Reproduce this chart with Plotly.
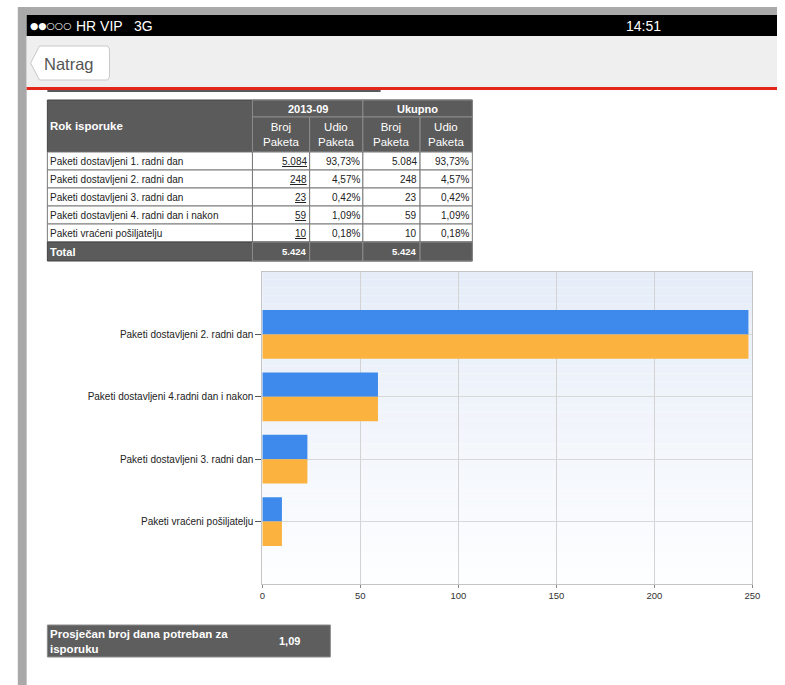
import plotly.graph_objects as go

# ---------------- data ----------------
table_rows = [
    "Paketi dostavljeni 1. radni dan",
    "Paketi dostavljeni 2. radni dan",
    "Paketi dostavljeni 3. radni dan",
    "Paketi dostavljeni 4. radni dan i nakon",
    "Paketi vraćeni pošiljatelju",
]
broj_2013 = [5084, 248, 23, 59, 10]
udio_2013 = [93.73, 4.57, 0.42, 1.09, 0.18]
broj_ukupno = [5084, 248, 23, 59, 10]
udio_ukupno = [93.73, 4.57, 0.42, 1.09, 0.18]
total_2013 = 5424
total_ukupno = 5424
period_labels = ["2013-09", "Ukupno"]
sub_labels = ["Broj<br>Paketa", "Udio<br>Paketa"]
avg_days_label = "Prosječan broj dana potreban za<br>isporuku"
avg_days = "1,09"

chart_categories = [
    "Paketi dostavljeni 2. radni dan",
    "Paketi dostavljeni 4.radni dan i nakon",
    "Paketi dostavljeni 3. radni dan",
    "Paketi vraćeni pošiljatelju",
]
series_2013 = [248, 59, 23, 10]
series_ukupno = [248, 59, 23, 10]
x_ticks = [0, 50, 100, 150, 200, 250]

# ---------------- helpers ----------------
W, H = 785, 685
def X(px):
    return px / W
def Y(py):
    return 1 - py / H

def fmt_int(v):
    return f"{v:,}".replace(",", ".")
def fmt_pct(v):
    return f"{v:.2f}".replace(".", ",") + "%"

shapes = []
annotations = []

def rect(x0, y0, x1, y1, fill, line="rgba(0,0,0,0)", lw=0, layer="below"):
    shapes.append(dict(type="rect", xref="paper", yref="paper",
                       x0=X(x0), x1=X(x1), y0=Y(y1), y1=Y(y0),
                       fillcolor=fill, line=dict(color=line, width=lw), layer=layer))

def text(x, y, s, size=9, color="#222", bold=False, xanchor="left",
         family="Liberation Sans, Arial, sans-serif", align="left"):
    if bold:
        s = "<b>" + s + "</b>"
    annotations.append(dict(xref="paper", yref="paper", x=X(x), y=Y(y), text=s,
                            showarrow=False, xanchor=xanchor, yanchor="middle",
                            align=align, borderpad=0,
                            font=dict(size=size, color=color, family=family)))

# ---------------- device frame ----------------
rect(15, 7, 785, 685, "#a9a9a9")
rect(24, 15, 785, 685, "#ffffff")
rect(24, 15, 785, 36, "#000000")
rect(24, 36, 785, 87, "#efefef")
rect(24, 87, 785, 90, "#e3261c")
rect(45, 90, 383, 92, "#5a5a5a")
text(26, 25.5, "●●○○○", size=9.5, color="#ffffff", family="DejaVu Sans, sans-serif")
text(73, 25.5, "HR VIP", size=14, color="#ffffff")
text(132, 25.5, "3G", size=14, color="#ffffff")
text(650, 25.5, "14:51", size=14, color="#ffffff", xanchor="center")
# back button
shapes.append(dict(type="path", xref="paper", yref="paper", layer="below",
                   path=(f"M {X(28)},{Y(63)} L {X(37)},{Y(46)} L {X(106)},{Y(46)} "
                         f"L {X(108)},{Y(49)} L {X(108)},{Y(77)} L {X(106)},{Y(80)} "
                         f"L {X(37)},{Y(80)} Z"),
                   fillcolor="#ffffff", line=dict(color="#c9c9c9", width=1)))
text(67, 64, "Natrag", size=16.5, color="#555555", xanchor="center")

# ---------------- table ----------------
cx = [45, 253, 311, 365, 423, 476]
ry = [100, 117, 152, 170, 188, 206, 224, 242, 261]
hdr = "#5b5b5b"
hline = "#8c8c8c"
rect(cx[0], ry[0], cx[5], ry[2], hdr, "#444444", 1)
rect(cx[1], ry[0], cx[3], ry[1], hdr, hline, 1)
rect(cx[3], ry[0], cx[5], ry[1], hdr, hline, 1)
for i in range(1, 5):
    rect(cx[i], ry[1], cx[i + 1], ry[2], hdr, hline, 1)
text(47, 126, "Rok isporuke", size=11.5, color="#ffffff", bold=True)
for j, lab in enumerate(period_labels):
    text((cx[1 + 2 * j] + cx[3 + 2 * j]) / 2, 108.5, lab, size=11, color="#ffffff",
         bold=True, xanchor="center")
for i in range(4):
    text((cx[i + 1] + cx[i + 2]) / 2, 134.5, sub_labels[i % 2], size=11.5,
         color="#ffffff", xanchor="center", align="center")
for r, name in enumerate(table_rows):
    y0, y1 = ry[2 + r], ry[3 + r]
    for c in range(5):
        rect(cx[c], y0, cx[c + 1], y1, "#ffffff", "#7a7a7a", 1)
    ym = (y0 + y1) / 2 + 0.5
    text(47, ym, name, size=10)
    vals = [f"<u>{fmt_int(broj_2013[r])}</u>", fmt_pct(udio_2013[r]),
            fmt_int(broj_ukupno[r]), fmt_pct(udio_ukupno[r])]
    for c, v in enumerate(vals):
        text(cx[c + 2] - 2, ym, v, size=10, xanchor="right")
rect(cx[0], ry[7], cx[5], ry[8], hdr, "#444444", 1)
for c in range(1, 5):
    rect(cx[c], ry[7], cx[c + 1], ry[8], hdr, hline, 1)
text(47, 251.5, "Total", size=11, color="#ffffff", bold=True)
text(cx[2] - 3, 251.5, fmt_int(total_2013), size=9.5, color="#ffffff", bold=True, xanchor="right")
text(cx[4] - 3, 251.5, fmt_int(total_ukupno), size=9.5, color="#ffffff", bold=True, xanchor="right")

# ---------------- average box ----------------
rect(45, 625, 332, 657, "#5e5e5e", "#8a8a8a", 1)
text(47, 641, avg_days_label, size=11.5, color="#ffffff", bold=True)
text(291, 641, avg_days, size=11, color="#ffffff", bold=True, xanchor="center")

# ---------------- plot background gradient ----------------
N = 40
top_c = (230, 237, 248)
bot_c = (253, 254, 255)
for k in range(N):
    t = k / (N - 1)
    col = tuple(round(top_c[i] + (bot_c[i] - top_c[i]) * t) for i in range(3))
    shapes.append(dict(type="rect", xref="x domain", yref="y domain",
                       x0=0, x1=1, y0=1 - (k + 1) / N, y1=1 - k / N,
                       fillcolor=f"rgb{col}", line=dict(width=0), layer="below"))

# ---------------- chart ----------------
fig = go.Figure()
fig.add_trace(go.Bar(y=chart_categories, x=series_2013, orientation="h",
                     name=period_labels[0], marker=dict(color="#3d8aec", line=dict(width=0))))
fig.add_trace(go.Bar(y=chart_categories, x=series_ukupno, orientation="h",
                     name=period_labels[1], marker=dict(color="#fbb23e", line=dict(width=0))))

fig.update_layout(
    width=W, height=H,
    autosize=False,
    margin=dict(l=0, r=0, t=0, b=0),
    paper_bgcolor="#ffffff",
    plot_bgcolor="#ffffff",
    showlegend=False,
    barmode="group",
    bargap=0.22,
    bargroupgap=0,
    shapes=shapes,
    annotations=annotations,
    font=dict(family="Liberation Sans, Arial, sans-serif", size=9, color="#222"),
    xaxis=dict(domain=[X(263), X(760)], range=[0, 250], tickvals=x_ticks,
               showgrid=True, gridcolor="#d3d3d3", gridwidth=1, zeroline=False,
               showline=True, linecolor="#c4c4c4", linewidth=1, mirror=True,
               ticks="outside", ticklen=3, tickcolor="#888888",
               tickfont=dict(size=9.5, color="#333333"), anchor="y"),
    yaxis=dict(domain=[Y(584), Y(272)], range=[4, -1], type="category",
               showgrid=True, gridcolor="#d8d8d8", gridwidth=1,
               showline=True, linecolor="#c4c4c4", linewidth=1, mirror=True,
               ticks="outside", ticklen=6, tickcolor="#555555",
               tickfont=dict(size=10, color="#222222"), anchor="x"),
)

fig.write_html(
    "out.html",
    config={"displayModeBar": False, "responsive": False},
    post_script=("document.documentElement.style.margin='0';"
                 "document.documentElement.style.overflow='hidden';"
                 "document.body.style.margin='0';"
                 "document.body.style.overflow='hidden';"),
)
